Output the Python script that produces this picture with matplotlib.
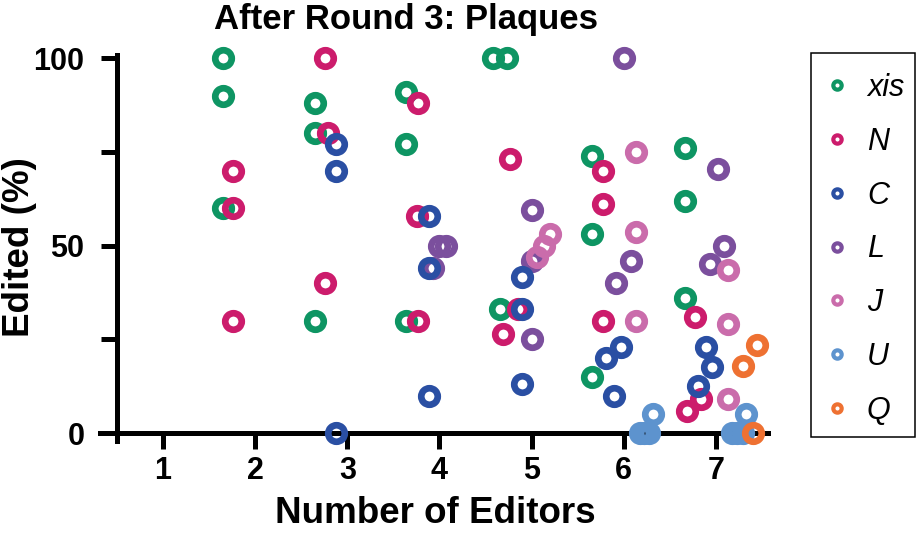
import matplotlib
matplotlib.use("Agg")
import matplotlib.pyplot as plt
from matplotlib.lines import Line2D
from matplotlib.patches import Rectangle

plt.rcParams['font.family'] = ['Liberation Sans', 'DejaVu Sans']

# series names and colours
labels = ['xis', 'N', 'C', 'L', 'J', 'U', 'Q']
colors = ['#0E9563', '#CC1C6C', '#2A4FA3', '#7B4F9D', '#CA6CAB', '#5D93CE', '#EE7132']

# points (x = number of editors, spread sideways by series), y = edited %
xis_x = [1.65, 1.65, 1.65, 2.65, 2.65, 2.65, 3.64, 3.64, 3.64,
         4.58, 4.73, 4.66, 5.65, 5.65, 5.65, 6.66, 6.66, 6.66]
xis_y = [100, 90, 60, 88, 80, 30, 91, 77, 30,
         100, 100, 33, 74, 53, 15, 76, 62, 36]

N_x = [1.76, 1.76, 1.76, 2.76, 2.79, 2.76, 3.77, 3.76, 3.77,
       4.77, 4.85, 4.69, 5.77, 5.77, 5.77, 6.77, 6.69, 6.84]
N_y = [70, 60, 30, 100, 80, 40, 88, 58, 30,
       73, 33, 26.5, 70, 61, 30, 31, 6, 9]

C_x = [2.88, 2.88, 2.88, 3.89, 3.89, 3.89, 4.89, 4.89, 4.89,
       5.97, 5.81, 5.89, 6.89, 6.96, 6.80]
C_y = [77, 70, 0, 58, 44, 10, 41.5, 33, 13,
       23, 20, 10, 23, 17.5, 12.5]

L_x = [3.99, 4.07, 3.93, 5.0, 5.0, 5.0, 6.0, 6.08, 5.92, 7.02, 7.09, 6.94]
L_y = [50, 50, 44, 59.5, 46, 25, 100, 46, 40, 70.5, 50, 45]

J_x = [5.2, 5.13, 5.06, 6.13, 6.13, 6.13, 7.13, 7.13, 7.13]
J_y = [53, 50, 47, 75, 53.5, 30, 43.5, 29, 9]

U_x = [6.32, 6.17, 6.22, 6.27, 7.32, 7.17, 7.23, 7.29]
U_y = [5, 0, 0, 0, 5, 0, 0, 0]

Q_x = [7.29, 7.44, 7.40]
Q_y = [18, 23.5, 0]

xs = [xis_x, N_x, C_x, L_x, J_x, U_x, Q_x]
ys = [xis_y, N_y, C_y, L_y, J_y, U_y, Q_y]

x_ticks = [1, 2, 3, 4, 5, 6, 7]
y_major = [0, 50, 100]
y_minor = [25, 75]

W, H = 919, 533
fig = plt.figure(figsize=(W / 100, H / 100), dpi=100)
ax = fig.add_axes([100.3 / W, 92.5 / H, 667.8 / W, 385.1 / H])

z = {'L': 3.0}
for name, col, x, y in zip(labels, colors, xs, ys):
    ax.plot(x, y, linestyle='none', marker='o', markersize=11.9, mew=4.8,
            mfc='none', mec=col, clip_on=False, zorder=z.get(name, 3.1))

ax.set_xlim(0.32, 7.565)
ax.set_ylim(-2, 100.7)

for s in ['top', 'right']:
    ax.spines[s].set_visible(False)
ax.spines['left'].set_position(('data', 0.5))
ax.spines['bottom'].set_position(('data', 0))
for s in ['left', 'bottom']:
    ax.spines[s].set_linewidth(3.6)

ax.set_xticks(x_ticks)
ax.set_yticks(y_major)
ax.set_yticks(y_minor, minor=True)
ax.tick_params(which='both', direction='out', length=11.5, width=3.6)
ax.tick_params(axis='x', pad=5)
ax.tick_params(axis='y', pad=12)
for t in ax.get_xticklabels() + ax.get_yticklabels():
    t.set_fontsize(22)
    t.set_fontweight('bold')

fig.text(406 / W, 1 - 29 / H, 'After Round 3: Plaques', ha='center', va='baseline',
         fontsize=25, fontweight='bold')
fig.text(435 / W, 1 - 523 / H, 'Number of Editors', ha='center', va='baseline',
         fontsize=26.5, fontweight='bold')
fig.text(20 / W, 1 - 247 / H, 'Edited (%)', ha='center', va='center', rotation=90,
         fontsize=26.5, fontweight='bold')

# legend: entries without frame, box drawn separately (taller than wide padding)
handles = [Line2D([], [], linestyle='none', marker='o', markersize=6, mew=3,
                  mfc='none', mec=c) for c in colors]
fig.legend(handles, labels, loc='upper left',
           bbox_to_anchor=(811 / W, 1 - 60 / H), borderaxespad=0,
           prop={'size': 22, 'style': 'italic'}, frameon=False,
           labelspacing=0.78, borderpad=0.42,
           handlelength=0.86, handletextpad=0.55)
fig.patches.append(Rectangle((811 / W, 1 - 437 / H), 104 / W, 384 / H,
                             transform=fig.transFigure, fill=False,
                             edgecolor='black', linewidth=1.1))

fig.savefig('out.png', dpi=100)
